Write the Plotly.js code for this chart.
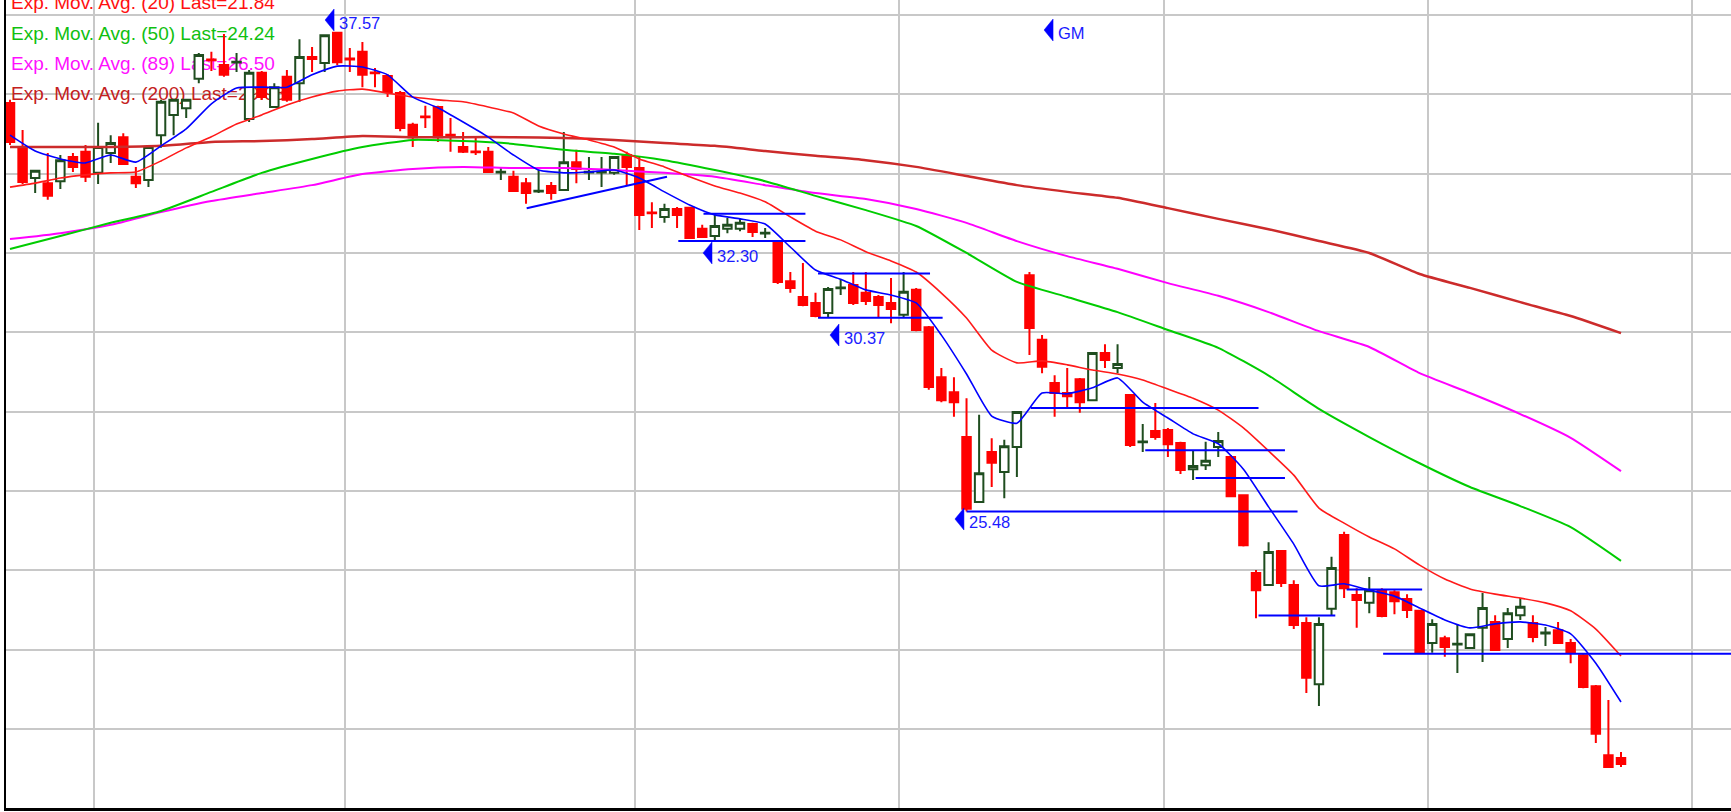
<!DOCTYPE html>
<html>
<head>
<meta charset="utf-8">
<script src="https://cdn.plot.ly/plotly-3.0.1.min.js"></script>
<style>
html,body{margin:0;padding:0;background:#ffffff;overflow:hidden;}
#chart{width:1731px;height:812px;}
</style>
</head>
<body>
<div id="chart"></div>
<script>
// ---------------- DATA ----------------
const openP = [35.78,34.67,33.89,33.76,33.81,34.42,34.55,34.02,34.52,34.92,
33.92,33.84,34.97,35.48,35.65,36.39,36.88,36.74,36.80,35.38,
36.54,35.68,36.44,36.28,36.94,36.79,37.55,36.90,37.07,36.55,
36.46,36.03,35.23,35.44,35.68,34.98,34.67,34.56,34.55,34.03,
33.92,33.76,33.55,33.69,33.59,34.29,34.03,34.03,34.02,34.47,
34.14,33.02,32.91,33.11,33.14,32.61,32.43,32.61,32.61,32.73,
32.49,32.28,31.29,30.89,30.74,30.49,31.11,31.19,31.00,30.89,
30.74,30.44,31.07,30.13,28.87,28.49,27.36,25.72,26.98,26.48,
27.11,31.44,29.81,28.72,28.47,28.82,28.29,29.48,29.10,28.42,
27.23,27.51,27.54,27.21,26.55,26.65,27.11,26.86,25.89,23.93,
23.63,24.49,23.63,22.67,21.13,23.03,24.89,23.38,23.18,23.50,
23.45,23.28,22.98,22.17,22.29,22.13,22.04,22.55,22.70,22.27,
22.87,22.67,22.41,22.49,22.17,21.86,21.08,19.34,19.27];
const highP = [35.86,35.10,34.09,34.52,34.47,34.52,34.72,35.28,34.97,35.02,
34.17,34.72,35.86,35.88,35.88,37.04,37.07,37.52,37.04,36.61,
36.59,36.28,36.61,37.39,37.19,37.50,37.57,37.17,37.32,36.66,
36.51,36.08,35.28,35.71,35.71,35.40,35.05,34.92,34.67,34.14,
34.07,33.89,34.09,33.79,35.05,34.60,34.42,34.42,34.44,34.55,
34.42,33.28,33.24,33.16,33.16,32.71,32.96,32.88,32.86,32.76,
32.63,32.30,31.52,31.75,31.00,31.14,31.34,31.52,31.52,30.94,
31.37,31.52,31.12,30.16,29.10,28.87,28.34,27.92,27.33,27.29,
28.01,31.52,29.93,28.92,29.10,28.85,29.50,29.70,29.70,28.44,
27.69,28.22,27.59,27.24,27.03,27.24,27.49,26.91,25.92,24.01,
24.71,24.51,23.75,22.82,22.82,24.34,24.97,23.55,23.83,23.55,
23.50,23.40,23.00,22.77,22.35,22.65,22.41,23.43,22.87,23.05,
23.30,22.87,22.57,22.70,22.27,21.89,21.11,20.73,19.42];
const lowP = [34.72,33.74,33.51,33.34,33.61,34.04,33.79,33.74,34.27,34.22,
33.64,33.66,34.65,34.97,35.40,36.28,36.59,36.44,36.56,35.30,
35.86,35.68,35.81,35.81,36.56,36.56,36.74,36.56,36.18,36.18,
35.93,35.07,34.67,35.15,34.80,34.55,34.52,34.47,34.02,33.84,
33.54,33.24,33.51,33.34,33.59,33.76,33.84,33.66,33.97,33.71,
32.58,32.63,32.76,32.63,32.35,32.38,32.30,32.50,32.55,32.40,
32.38,31.22,31.00,30.66,30.38,30.37,30.94,30.69,30.69,30.36,
30.23,30.38,30.03,28.55,28.24,27.87,25.48,25.72,26.10,25.82,
26.35,29.43,28.97,27.87,28.12,27.97,28.29,29.10,28.97,27.11,
26.98,27.29,26.86,26.43,26.28,26.53,26.86,25.85,24.60,22.79,
23.63,23.58,22.52,20.91,20.58,22.87,23.30,22.55,22.92,22.82,
22.89,22.80,21.92,21.92,21.82,21.41,22.02,21.69,21.99,22.04,
22.75,22.19,22.09,22.15,21.66,21.03,19.65,19.02,19.04];
const closeP = [34.80,33.79,34.07,33.44,34.34,34.17,33.92,34.67,34.77,34.24,
33.76,34.67,35.81,35.86,35.86,36.99,36.86,36.49,36.82,36.54,
35.93,36.18,35.86,36.94,36.89,37.49,36.81,36.88,36.49,36.53,
36.06,35.15,34.92,35.42,34.92,34.96,34.55,34.54,34.04,34.05,
33.56,33.51,33.57,33.51,34.29,34.12,34.05,34.05,34.42,34.17,
32.96,33.00,33.11,32.96,32.38,32.40,32.68,32.71,32.76,32.53,
32.51,31.27,31.12,30.69,30.41,31.09,31.13,30.74,30.79,30.69,
30.59,31.02,30.06,28.62,28.29,28.24,25.55,26.45,26.71,27.13,
27.99,30.11,29.13,28.47,28.39,28.24,29.48,29.30,29.20,27.16,
27.25,27.36,27.18,26.53,26.63,26.76,27.26,25.87,24.63,23.50,
24.46,23.68,22.62,21.29,22.65,24.06,23.55,23.25,23.50,22.85,
23.22,23.00,21.92,22.65,22.07,22.15,22.39,23.05,21.99,22.92,
23.08,22.32,22.43,22.17,21.92,21.06,19.88,19.04,19.12];

// moving averages (x = candle index)
const maFastIdx = [0,2,4,6,8,10,12,14,16,18,20,22,24,26,28,30,32,34,36,38,40,42,44,46,48,50,52,54,56,58,60,62,64,66,68,70,72,74,76,78,80,82,84,86,88,90,92,94,96,98,100,102,104,106,108,110,112,114,116,118,120,122,124,126,128];
const maFast = [34.97,34.57,34.37,34.27,34.47,34.29,34.70,35.13,35.76,36.16,36.18,36.18,36.49,36.71,36.69,36.49,35.93,35.66,35.30,34.92,
34.47,34.09,34.02,34.04,34.09,33.89,33.54,33.21,32.96,32.86,32.73,32.15,31.57,31.34,31.07,30.94,30.74,29.93,28.95,27.89,
27.71,28.47,28.45,28.60,28.85,28.24,27.84,27.44,27.19,26.55,25.60,24.66,23.61,23.66,23.50,23.35,23.05,22.75,22.55,22.65,
22.70,22.62,22.40,21.66,20.68];
const ema20 = [33.66,33.76,33.89,33.97,34.02,34.04,34.32,34.65,34.93,35.25,35.48,35.73,35.93,36.08,36.13,36.03,35.93,35.86,35.81,35.68,
35.53,35.20,35.00,34.85,34.67,34.37,34.17,33.92,33.69,33.51,33.29,32.91,32.55,32.33,32.03,31.80,31.52,30.99,30.36,29.55,
29.23,29.28,29.18,29.05,28.95,28.80,28.57,28.34,28.04,27.59,27.01,26.40,25.57,25.19,24.84,24.54,24.13,23.78,23.53,23.40,
23.30,23.18,22.98,22.52,21.84];
const maSlowIdx = [0,4,8,12,16,20,24,28,32,36,40,44,48,52,56,60,64,68,72,76,80,84,88,92,96,100,104,108,112,116,120,124,128];
const ema50 = [32.10,32.43,32.76,33.06,33.54,34.02,34.37,34.67,34.85,34.82,34.75,34.60,34.50,34.34,34.09,33.81,33.44,33.08,32.68,32.00,
31.27,30.89,30.51,30.06,29.61,28.91,28.07,27.36,26.70,26.10,25.62,25.09,24.24];
const ema89 = [32.35,32.50,32.71,33.03,33.31,33.51,33.71,33.99,34.12,34.17,34.14,34.14,34.09,34.02,33.92,33.71,33.51,33.36,33.11,32.76,
32.30,31.92,31.60,31.24,30.92,30.51,30.03,29.63,28.97,28.47,27.94,27.34,26.50];
const ema200 = [34.67,34.67,34.67,34.70,34.80,34.82,34.87,34.95,34.92,34.92,34.92,34.90,34.85,34.77,34.70,34.57,34.45,34.34,34.17,33.94,
33.71,33.54,33.39,33.13,32.86,32.60,32.30,32.00,31.47,31.12,30.76,30.41,29.98];

const legendLabels = ["Exp. Mov. Avg. (20) Last=21.84","Exp. Mov. Avg. (50) Last=24.24","Exp. Mov. Avg. (89) Last=26.50","Exp. Mov. Avg. (200) Last=29.98"];

// drawn trend / support lines (candle index, price)
const trendStartIdx = [41.05,55.1,53.1,64.2,64.2,76.0,81.1,90.2,94.2,99.2,106.2,109.1];
const trendStartPrice = [33.13,32.99,32.30,31.48,30.37,25.48,28.09,27.03,26.33,22.86,23.52,21.90];
const trendEndIdx = [52.2,63.2,63.2,73.1,74.1,102.3,99.2,101.3,101.3,105.3,112.2,137.5];
const trendEndPrice = [33.92,32.99,32.30,31.48,30.37,25.48,28.09,27.03,26.33,22.86,23.52,21.90];

// price labels
const labelIdx = [25,55,65,75,82];
const labelPrice = [37.57,32.30,30.37,25.48,37.62];
const labelText = ["37.57","32.30","30.37","25.48","GM"];

const monthStartIdx = [7,27,50,71,92,113,134];
const priceGrid = [20,22,24,26,28,30,32,34,36,38];

// ---------------- LAYOUT / STYLE ----------------
const FONT = '"Liberation Sans", Arial, sans-serif';
const W = 1731, H = 812;
const M = {l:6, r:0, t:0, b:4};
const plotW = W - M.l - M.r, plotH = H - M.t - M.b;
const xRange = [-0.318, 136.74];
const yRange = [18.009, 38.377];
const pxToIdx = px => xRange[0] + (px - M.l) / plotW * (xRange[1] - xRange[0]);
const pxToPrice = py => yRange[1] - (py - M.t) / plotH * (yRange[1] - yRange[0]);

const candleIdx = openP.map((_, i) => i);

const legendColors = ['#ff1010','#10c010','#ff10ff','#c42020'];
const legendBaselinePx = [9, 39.5, 70, 100];
const legendFont = 19;

// arrow tip offsets (px) relative to each label anchor: [dx, dy(up)]
const labelOffsetPx = [[0.4,12],[0.8,-11.8],[1.9,-17.4],[1,-7.4],[2,0]];

const traces = [];

// legend text on the base subplot (drawn beneath candles)
traces.push({
  type:'scatter', mode:'text', xaxis:'x', yaxis:'y',
  x: legendLabels.map(() => pxToIdx(11)),
  y: legendBaselinePx.map(b => pxToPrice(b - 0.25 * legendFont)),
  text: legendLabels, textposition:'middle right',
  textfont:{family:FONT, size:legendFont, color:legendColors},
  hoverinfo:'skip', cliponaxis:true
});

traces.push({
  type:'candlestick', xaxis:'x', yaxis:'y2',
  x:candleIdx, open:openP, high:highP, low:lowP, close:closeP,
  increasing:{line:{color:'#1f4d1f', width:2}, fillcolor:'#ffffff'},
  decreasing:{line:{color:'#ff0000', width:2}, fillcolor:'#ff0000'},
  whiskerwidth:0, hoverinfo:'skip'
});

function lineTrace(xs, ys, color, width) {
  return {type:'scatter', mode:'lines', xaxis:'x', yaxis:'y2', x:xs, y:ys,
          line:{color:color, width:width, shape:'spline', smoothing:0.5}, hoverinfo:'skip'};
}
traces.push(lineTrace(maSlowIdx, ema200, '#cc2b2b', 2.5));
traces.push(lineTrace(maSlowIdx, ema89, '#ff00ff', 2));
traces.push(lineTrace(maSlowIdx, ema50, '#00cc00', 2));
traces.push(lineTrace(maFastIdx, ema20, '#ff1a1a', 1.6));
traces.push(lineTrace(maFastIdx, maFast, '#0000ff', 1.6));

const tx = [], ty = [];
for (let i = 0; i < trendStartIdx.length; i++) {
  tx.push(trendStartIdx[i], trendEndIdx[i], null);
  ty.push(trendStartPrice[i], trendEndPrice[i], null);
}
traces.push({type:'scatter', mode:'lines', xaxis:'x', yaxis:'y2', x:tx, y:ty,
  line:{color:'#0000ff', width:2}, hoverinfo:'skip', connectgaps:false});

const shapes = [], annotations = [];
for (let i = 0; i < labelIdx.length; i++) {
  const [dx, dy] = labelOffsetPx[i];
  shapes.push({
    type:'path', xref:'x', yref:'y', xsizemode:'pixel', ysizemode:'pixel',
    xanchor:labelIdx[i], yanchor:labelPrice[i],
    path:`M${dx},${dy} L${dx+9},${dy+11} L${dx+9},${dy-11} Z`,
    fillcolor:'#0000ff', line:{color:'#0000ff', width:0.5}
  });
  annotations.push({
    xref:'x', yref:'y', x:labelIdx[i], y:labelPrice[i],
    xshift:dx + 12, yshift:dy - 3.3, text:labelText[i], showarrow:false,
    xanchor:'left', yanchor:'middle',
    font:{family:FONT, size:16.5, color:'#1a1aff'}
  });
}

const gridColor = '#c8c8c8';
const layout = {
  width:W, height:H, margin:M,
  paper_bgcolor:'#ffffff', plot_bgcolor:'#ffffff',
  showlegend:false, hovermode:false,
  boxgap:0.1, boxgroupgap:0.25,
  xaxis:{type:'linear', range:xRange, tickmode:'array',
         tickvals:monthStartIdx.map(i => i - 0.35),
         showticklabels:false, ticks:'', showgrid:true, gridcolor:gridColor, gridwidth:2,
         zeroline:false, showline:true, linecolor:'#000000', linewidth:2.5,
         rangeslider:{visible:false}, fixedrange:true},
  yaxis:{range:yRange, tickmode:'array', tickvals:priceGrid, showticklabels:false, ticks:'',
         showgrid:true, gridcolor:gridColor, gridwidth:2, zeroline:false,
         showline:true, linecolor:'#000000', linewidth:2, fixedrange:true},
  yaxis2:{overlaying:'y', range:yRange, showgrid:false, showticklabels:false, ticks:'',
          zeroline:false, showline:false, fixedrange:true},
  shapes:shapes, annotations:annotations
};

Plotly.newPlot('chart', traces, layout, {staticPlot:true, displayModeBar:false});
</script>
</body>
</html>
